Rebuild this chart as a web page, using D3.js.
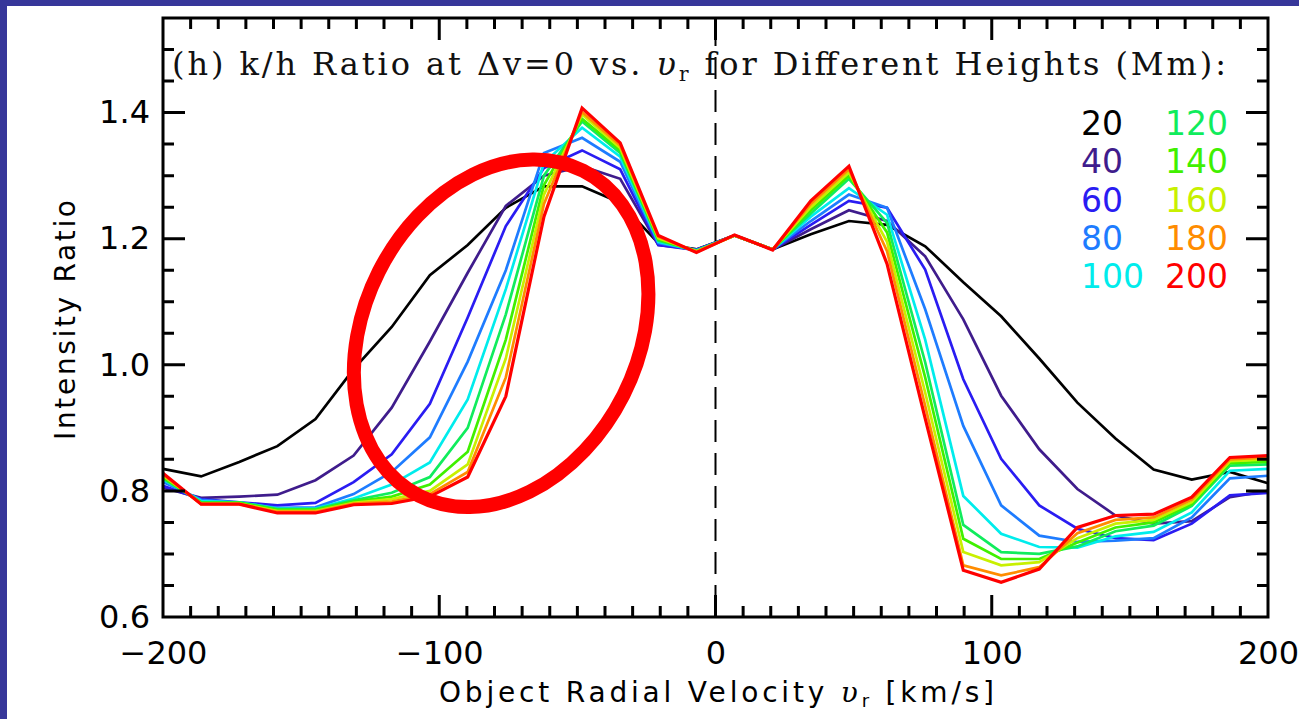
<!DOCTYPE html>
<html>
<head>
<meta charset="utf-8">
<script src="https://cdn.jsdelivr.net/npm/d3@7"></script>
<style>
  html, body { margin: 0; padding: 0; background: #37379a; overflow: hidden; }
  svg { display: block; }
</style>
</head>
<body>
<div id="chart"></div>
<script>
// Object radial velocity samples (km/s)
var velocities = [-200, -186.2, -172.4, -158.6, -144.8, -131.0, -117.2, -103.4, -89.7, -75.9,
                  -62.1, -48.3, -34.5, -20.7, -6.9, 6.9, 20.7, 34.5, 48.3, 62.1,
                  75.9, 89.7, 103.4, 117.2, 131.0, 144.8, 158.6, 172.4, 186.2, 200];

var heights = [20, 40, 60, 80, 100, 120, 140, 160, 180, 200];
var lineColors = ['#000000', '#3f1c8c', '#2a1cf2', '#1e7cff', '#00ecec',
                  '#10ec5c', '#40f000', '#c8f000', '#ff8c00', '#ff0000'];

// k/h intensity ratio for each height (Mm)
var h20  = [0.835, 0.823, 0.846, 0.871, 0.914, 0.993, 1.060, 1.142, 1.190, 1.249,
            1.283, 1.283, 1.257, 1.193, 1.183, 1.205, 1.183, 1.207, 1.228, 1.222,
            1.188, 1.131, 1.077, 1.010, 0.940, 0.883, 0.834, 0.818, 0.830, 0.812];
var h40  = [0.805, 0.789, 0.791, 0.794, 0.817, 0.856, 0.932, 1.037, 1.146, 1.252,
            1.300, 1.315, 1.295, 1.190, 1.183, 1.205, 1.183, 1.215, 1.245, 1.228,
            1.172, 1.072, 0.951, 0.866, 0.803, 0.761, 0.748, 0.752, 0.790, 0.800];
var h60  = [0.808, 0.787, 0.782, 0.777, 0.781, 0.814, 0.858, 0.938, 1.075, 1.220,
            1.312, 1.340, 1.310, 1.190, 1.182, 1.205, 1.183, 1.222, 1.260, 1.249,
            1.151, 0.977, 0.851, 0.777, 0.740, 0.725, 0.722, 0.748, 0.793, 0.797];
var h80  = [0.814, 0.786, 0.781, 0.773, 0.774, 0.795, 0.830, 0.885, 1.005, 1.150,
            1.336, 1.360, 1.322, 1.193, 1.182, 1.205, 1.183, 1.228, 1.270, 1.249,
            1.088, 0.903, 0.777, 0.729, 0.719, 0.721, 0.725, 0.758, 0.820, 0.824];
var h100 = [0.818, 0.784, 0.782, 0.772, 0.772, 0.788, 0.810, 0.845, 0.945, 1.120,
            1.320, 1.376, 1.330, 1.195, 1.181, 1.205, 1.183, 1.235, 1.280, 1.238,
            1.040, 0.792, 0.732, 0.711, 0.710, 0.728, 0.735, 0.766, 0.832, 0.835];
var h120 = [0.820, 0.782, 0.782, 0.771, 0.771, 0.785, 0.797, 0.822, 0.900, 1.080,
            1.300, 1.386, 1.336, 1.197, 1.181, 1.205, 1.183, 1.240, 1.295, 1.225,
            1.004, 0.746, 0.703, 0.700, 0.712, 0.736, 0.745, 0.776, 0.840, 0.842];
var h140 = [0.822, 0.781, 0.781, 0.770, 0.770, 0.783, 0.791, 0.810, 0.862, 1.040,
            1.285, 1.390, 1.340, 1.199, 1.180, 1.205, 1.183, 1.245, 1.300, 1.210,
            0.980, 0.724, 0.692, 0.692, 0.718, 0.742, 0.750, 0.779, 0.844, 0.846];
var h160 = [0.824, 0.780, 0.780, 0.768, 0.768, 0.781, 0.787, 0.800, 0.842, 1.010,
            1.270, 1.397, 1.344, 1.201, 1.180, 1.205, 1.183, 1.250, 1.305, 1.195,
            0.956, 0.703, 0.682, 0.687, 0.725, 0.748, 0.754, 0.782, 0.847, 0.850];
var h180 = [0.826, 0.779, 0.779, 0.767, 0.767, 0.780, 0.783, 0.795, 0.830, 0.980,
            1.255, 1.401, 1.348, 1.203, 1.179, 1.205, 1.183, 1.255, 1.310, 1.180,
            0.935, 0.682, 0.666, 0.679, 0.733, 0.754, 0.758, 0.786, 0.850, 0.853];
var h200 = [0.828, 0.779, 0.779, 0.765, 0.765, 0.778, 0.780, 0.791, 0.822, 0.950,
            1.235, 1.407, 1.352, 1.205, 1.178, 1.206, 1.182, 1.260, 1.315, 1.160,
            0.915, 0.674, 0.655, 0.676, 0.742, 0.761, 0.763, 0.790, 0.853, 0.856];
var series = [h20, h40, h60, h80, h100, h120, h140, h160, h180, h200];

var xTickValues = [-200, -100, 0, 100, 200];
var xTickLabels = ['\u2212200', '\u2212100', '0', '100', '200'];
var yTickValues = [0.6, 0.8, 1.0, 1.2, 1.4];
var yTickLabels = ['0.6', '0.8', '1.0', '1.2', '1.4'];

var width = 1299, height = 719,
    margin = {top: 18, right: 31, bottom: 102, left: 163},
    plotW = width - margin.left - margin.right,
    plotH = height - margin.top - margin.bottom,
    majorLen = 22, minorLen = 11,
    labelFont = '"DejaVu Sans", Verdana, sans-serif';

var svg = d3.select('#chart').append('svg')
    .attr('width', width)
    .attr('height', height);

// white panel inside the blue slide border
svg.append('rect').attr('x', 7).attr('y', 6)
    .attr('width', width - 7).attr('height', height - 6).attr('fill', '#ffffff');

var g = svg.append('g')
    .attr('transform', 'translate(' + margin.left + ',' + margin.top + ')');

var x = d3.scaleLinear().domain([-200, 200]).range([0, plotW]);
var y = d3.scaleLinear().domain([0.6, 1.55]).range([plotH, 0]);

var xMinor = d3.range(-200, 201, 10).filter(function (v) { return v % 100 !== 0; });
var yMinor = d3.range(0.6, 1.5501, 0.05).filter(function (v) {
    return Math.abs(v * 5 - Math.round(v * 5)) > 0.01;
});

// frame plus every inward tick mark, built as one path from the scales
function frameAndTicks() {
    var p = d3.path();
    p.rect(0, 0, plotW, plotH);
    function xt(v, len) {
        p.moveTo(x(v), plotH); p.lineTo(x(v), plotH - len);
        p.moveTo(x(v), 0); p.lineTo(x(v), len);
    }
    function yt(v, len) {
        p.moveTo(0, y(v)); p.lineTo(len, y(v));
        p.moveTo(plotW, y(v)); p.lineTo(plotW - len, y(v));
    }
    xTickValues.forEach(function (v) { xt(v, majorLen); });
    xMinor.forEach(function (v) { xt(v, minorLen); });
    yTickValues.forEach(function (v) { yt(v, majorLen); });
    yMinor.forEach(function (v) { yt(v, minorLen); });
    return p.toString();
}

// tick labels through d3 axes
var xLabelAxis = g.append('g')
    .attr('transform', 'translate(0,' + plotH + ')')
    .call(d3.axisBottom(x).tickValues(xTickValues)
        .tickFormat(function (d, i) { return xTickLabels[i]; })
        .tickSize(0).tickPadding(24));
xLabelAxis.select('.domain').remove();
xLabelAxis.selectAll('text')
    .attr('font-family', labelFont)
    .attr('font-size', 32)
    .attr('fill', '#000');

var yLabelAxis = g.append('g')
    .call(d3.axisLeft(y).tickValues(yTickValues)
        .tickFormat(function (d, i) { return yTickLabels[i]; })
        .tickSize(0).tickPadding(13));
yLabelAxis.select('.domain').remove();
yLabelAxis.selectAll('text')
    .attr('font-family', labelFont)
    .attr('font-size', 32)
    .attr('fill', '#000');

// dashed zero-velocity line
g.append('line')
    .attr('x1', x(0)).attr('x2', x(0))
    .attr('y1', 6).attr('y2', plotH)
    .attr('stroke', '#000')
    .attr('stroke-width', 2)
    .attr('stroke-dasharray', '22,11');

// curves, 20 Mm first so 200 Mm sits on top
var curve = d3.line()
    .x(function (d, i) { return x(velocities[i]); })
    .y(function (d) { return y(d); });

g.selectAll('path.curve')
    .data(series)
    .enter()
    .append('path')
    .attr('class', 'curve')
    .attr('d', curve)
    .attr('fill', 'none')
    .attr('stroke', function (d, i) { return lineColors[i]; })
    .attr('stroke-width', function (d, i) { return i === series.length - 1 ? 3.2 : 2.7; })
    .attr('stroke-linejoin', 'miter');

// frame with ticks
g.append('path')
    .attr('class', 'frame')
    .attr('d', frameAndTicks())
    .attr('fill', 'none')
    .attr('stroke', '#000')
    .attr('stroke-width', 3);

// title
var titleText = g.append('text')
    .attr('x', 9).attr('y', 57)
    .attr('textLength', 1054)
    .attr('lengthAdjust', 'spacing')
    .attr('font-family', '"DejaVu Serif", "Liberation Serif", serif')
    .attr('font-size', 32)
    .attr('fill', '#111');
titleText.append('tspan').text('(h) k/h Ratio at \u0394v=0 vs. ');
titleText.append('tspan').attr('font-style', 'italic').text('\u03c5');
titleText.append('tspan').attr('dy', 6).attr('font-size', 20).text('r');
titleText.append('tspan').attr('dy', -6).text(' for Different Heights (Mm):');

// legend, two columns of five
g.selectAll('text.legend')
    .data(heights)
    .enter()
    .append('text')
    .attr('class', 'legend')
    .attr('x', function (d, i) { return i < 5 ? 918 : 1002; })
    .attr('y', function (d, i) { return 117 + (i % 5) * 38.3; })
    .attr('font-family', labelFont)
    .attr('font-size', 33)
    .attr('fill', function (d, i) { return lineColors[i]; })
    .text(function (d) { return d; });

// annotation ellipse
g.append('ellipse')
    .attr('cx', 0).attr('cy', 0)
    .attr('rx', 137).attr('ry', 182)
    .attr('transform', 'translate(' + x(-77.6) + ',' + y(1.05) + ') rotate(26.8)')
    .attr('fill', 'none')
    .attr('stroke', '#ff0000')
    .attr('stroke-width', 14);

// axis titles
var xTitle = svg.append('text')
    .attr('x', 439).attr('y', 702)
    .attr('textLength', 555)
    .attr('lengthAdjust', 'spacing')
    .attr('font-family', labelFont)
    .attr('font-size', 28)
    .attr('fill', '#000');
xTitle.append('tspan').text('Object Radial Velocity ');
xTitle.append('tspan').attr('font-style', 'italic').attr('font-family', '"DejaVu Serif", serif').text('\u03c5');
xTitle.append('tspan').attr('dy', 5).attr('font-size', 18).text('r');
xTitle.append('tspan').attr('dy', -5).text(' [km/s]');

svg.append('text')
    .attr('transform', 'translate(75,320) rotate(-90)')
    .attr('text-anchor', 'middle')
    .attr('textLength', 240)
    .attr('lengthAdjust', 'spacing')
    .attr('font-family', labelFont)
    .attr('font-size', 28)
    .attr('fill', '#000')
    .text('Intensity Ratio');
</script>
</body>
</html>
